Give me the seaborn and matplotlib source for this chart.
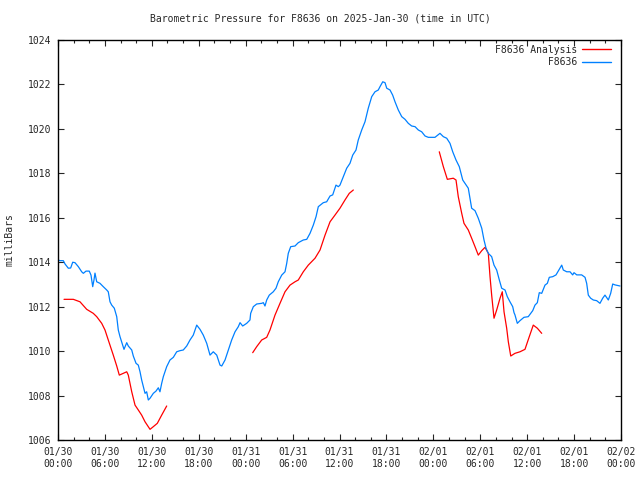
import pandas as pd
import numpy as np
import seaborn as sns
import matplotlib
matplotlib.use("Agg")
import matplotlib.pyplot as plt
import matplotlib.dates as mdates

# Zeitpunkte in Stunden ab 2025-01-30 00:00 UTC, Druck in mb
start = pd.Timestamp("2025-01-30 00:00")

station_hours = [0.0, 0.26, 0.68, 0.9, 1.32, 1.62, 1.88, 2.17, 2.6, 3.03, 3.24, 3.58, 4.0, 4.22, 4.44, 4.6,
                 4.73, 4.95, 5.37, 5.79, 6.23, 6.43, 6.65, 6.87, 7.2, 7.51, 7.71, 7.93, 8.27, 8.44, 8.79, 8.99,
                 9.43, 9.63, 9.98, 10.27, 10.49, 10.7, 10.91, 11.13, 11.34, 11.55, 11.77, 12.19, 12.53, 12.83,
                 13.04, 13.26, 13.47, 13.68, 13.9, 14.32, 14.75, 15.18, 15.6, 16.02, 16.46, 16.88, 17.3, 17.74,
                 18.16, 18.58, 19.02, 19.44, 19.86, 20.3, 20.72, 20.94, 21.36, 21.78, 22.21, 22.64, 23.06, 23.28,
                 23.62, 24.13, 24.55, 24.64, 24.98, 25.41, 26.05, 26.26, 26.47, 26.69, 27.02, 27.53, 27.88, 28.17,
                 28.61, 29.03, 29.25, 29.45, 29.76, 30.31, 30.73, 31.37, 31.81, 32.23, 32.65, 33.0, 33.29, 33.72,
                 33.93, 34.36, 34.79, 35.13, 35.55, 35.85, 36.06, 36.49, 36.92, 37.34, 37.69, 38.11, 38.4, 38.84,
                 39.26, 39.68, 40.12, 40.54, 40.96, 41.18, 41.53, 41.82, 42.04, 42.46, 42.8, 43.1, 43.52, 43.96,
                 44.38, 44.8, 45.23, 45.66, 46.08, 46.51, 46.94, 47.36, 48.21, 48.85, 49.28, 49.71, 50.13, 50.48,
                 50.9, 51.32, 51.76, 52.05, 52.47, 52.69, 52.9, 53.33, 53.75, 54.19, 54.48, 54.74, 55.03, 55.46,
                 55.76, 56.1, 56.44, 56.74, 57.17, 57.46, 57.8, 58.15, 58.32, 58.44, 58.74, 59.08, 59.59, 60.14,
                 60.71, 61.0, 61.3, 61.55, 61.86, 62.28, 62.58, 62.83, 63.27, 63.69, 64.11, 64.42, 64.62, 65.06,
                 65.48, 65.82, 65.99, 66.34, 66.97, 67.4, 67.61, 67.82, 68.12, 68.46, 68.89, 69.31, 69.66, 69.95,
                 70.38, 70.68, 70.94, 71.23, 71.87]
station_mb = [1014.1, 1014.07, 1014.07, 1013.92, 1013.73, 1013.74, 1014.0, 1013.98, 1013.8, 1013.57, 1013.5,
              1013.6, 1013.6, 1013.42, 1012.9, 1013.2, 1013.51, 1013.12, 1013.05, 1012.9, 1012.75, 1012.67,
              1012.22, 1012.07, 1011.93, 1011.55, 1010.95, 1010.65, 1010.27, 1010.08, 1010.38, 1010.23, 1010.05,
              1009.78, 1009.45, 1009.37, 1009.07, 1008.7, 1008.4, 1008.1, 1008.17, 1007.8, 1007.88, 1008.1,
              1008.2, 1008.35, 1008.17, 1008.55, 1008.85, 1009.07, 1009.3, 1009.6, 1009.72, 1009.97, 1010.02,
              1010.05, 1010.23, 1010.5, 1010.72, 1011.17, 1010.98, 1010.72, 1010.35, 1009.82, 1009.97, 1009.82,
              1009.37, 1009.33, 1009.6, 1010.05, 1010.5, 1010.87, 1011.1, 1011.28, 1011.13, 1011.25, 1011.4,
              1011.7, 1012.0, 1012.12, 1012.15, 1012.18, 1012.03, 1012.3, 1012.52, 1012.67, 1012.83, 1013.12,
              1013.42, 1013.57, 1013.95, 1014.4, 1014.7, 1014.73, 1014.88, 1015.0, 1015.03, 1015.3, 1015.67,
              1016.05, 1016.5, 1016.62, 1016.68, 1016.72, 1016.98, 1017.03, 1017.47, 1017.4, 1017.47, 1017.85,
              1018.23, 1018.45, 1018.82, 1019.05, 1019.5, 1019.95, 1020.32, 1020.93, 1021.45, 1021.67, 1021.75,
              1021.9, 1022.12, 1022.08, 1021.83, 1021.75, 1021.52, 1021.22, 1020.85, 1020.55, 1020.43, 1020.25,
              1020.13, 1020.1, 1019.95, 1019.87, 1019.68, 1019.62, 1019.62, 1019.8, 1019.65, 1019.58, 1019.35,
              1018.97, 1018.6, 1018.3, 1017.7, 1017.55, 1017.33, 1016.88, 1016.43, 1016.32, 1015.98, 1015.53,
              1015.0, 1014.63, 1014.4, 1014.25, 1013.87, 1013.65, 1013.2, 1012.83, 1012.75, 1012.45, 1012.22,
              1012.0, 1011.73, 1011.63, 1011.25, 1011.37, 1011.52, 1011.55, 1011.82, 1012.07, 1012.18, 1012.63,
              1012.6, 1012.97, 1013.05, 1013.32, 1013.35, 1013.43, 1013.68, 1013.87, 1013.65, 1013.57, 1013.57,
              1013.43, 1013.53, 1013.43, 1013.43, 1013.32, 1013.05, 1012.52, 1012.38, 1012.3, 1012.27, 1012.15,
              1012.38, 1012.52, 1012.3, 1012.6, 1013.02, 1012.98, 1012.93]

# Analyse: drei Abschnitte mit Lücken dazwischen
analysis_seg = [1] * 25 + [2] * 22 + [3] * 32
analysis_hours = [0.77, 1.96, 2.81, 3.67, 4.51, 4.95, 5.59, 6.01, 6.43, 7.07, 7.51, 7.84, 8.35, 8.79, 8.99,
                  9.43, 9.85, 10.27, 10.7, 11.13, 11.77, 12.19, 12.7, 13.26, 13.9,
                  24.9, 25.41, 26.05, 26.69, 27.11, 27.75, 28.39, 29.03, 29.67, 30.31, 30.73, 31.37, 32.01,
                  32.87, 33.51, 34.15, 34.79, 35.42, 36.06, 36.7, 37.25, 37.77,
                  48.76, 49.28, 49.79, 50.55, 50.9, 51.19, 51.63, 51.92, 52.47, 52.9, 53.33, 53.75, 54.19,
                  54.61, 55.03, 55.25, 55.46, 55.76, 56.1, 56.53, 56.82, 57.04, 57.38, 57.59, 57.9, 58.44,
                  59.08, 59.72, 60.27, 60.78, 61.3, 61.86]
analysis_mb = [1012.33, 1012.33, 1012.22, 1011.88, 1011.7, 1011.55, 1011.25, 1010.95, 1010.5, 1009.82,
               1009.33, 1008.92, 1009.0, 1009.07, 1008.92, 1008.17, 1007.57, 1007.35, 1007.12, 1006.82,
               1006.48, 1006.6, 1006.75, 1007.12, 1007.53,
               1009.93, 1010.2, 1010.5, 1010.62, 1010.95, 1011.62, 1012.15, 1012.67, 1012.97, 1013.12,
               1013.2, 1013.57, 1013.87, 1014.18, 1014.55, 1015.22, 1015.82, 1016.12, 1016.43, 1016.8,
               1017.1, 1017.25,
               1018.97, 1018.3, 1017.73, 1017.78, 1017.7, 1016.95, 1016.2, 1015.75, 1015.45, 1015.08,
               1014.7, 1014.32, 1014.52, 1014.67, 1014.4, 1013.35, 1012.52, 1011.48, 1011.85, 1012.38,
               1012.67, 1011.77, 1011.03, 1010.42, 1009.78, 1009.9, 1009.97, 1010.08, 1010.65, 1011.17,
               1011.03, 1010.8]

series_names = ["F8636 Analysis", "F8636"]
series_colors = ["#ff0000", "#0080ff"]

df_station = pd.DataFrame({"time": start + pd.to_timedelta(station_hours, unit="h"),
                           "mb": station_mb, "series": "F8636", "seg": 0})
df_analysis = pd.DataFrame({"time": start + pd.to_timedelta(analysis_hours, unit="h"),
                            "mb": analysis_mb, "series": "F8636 Analysis", "seg": analysis_seg})
df = pd.concat([df_analysis, df_station], ignore_index=True)

sns.set_style("ticks")
plt.rcParams["font.family"] = ["DejaVu Sans Mono", "DejaVu Sans"]
plt.rcParams["font.size"] = 7

fig = plt.figure(figsize=(6.4, 4.8), dpi=100)
ax = fig.add_axes([58 / 640, 40 / 480, 563 / 640, 400 / 480])

sns.lineplot(data=df, x="time", y="mb", hue="series", units="seg", estimator=None,
             hue_order=series_names, palette=series_colors, linewidth=0.9, ax=ax, legend=False)

ax.set_xlim(start, start + pd.Timedelta(hours=72))
ax.set_ylim(1006, 1024)
ax.set_yticks(np.arange(1006, 1025, 2))
ax.xaxis.set_major_locator(mdates.HourLocator(byhour=[0, 6, 12, 18]))
ax.xaxis.set_minor_locator(mdates.HourLocator(interval=2))
ax.xaxis.set_major_formatter(mdates.DateFormatter("%m/%d\n%H:%M"))

ax.tick_params(which="both", direction="in", top=True, right=True, labelsize=7, pad=5, width=0.8)
ax.tick_params(which="major", length=4)
ax.tick_params(which="minor", length=2)
for sp in ax.spines.values():
    sp.set_linewidth(1.0)
    sp.set_color("black")

ax.set_xlabel("")
ax.set_ylabel("milliBars", fontsize=7)
ax.yaxis.set_label_coords(-0.077, 0.5)
fig.suptitle("Barometric Pressure for F8636 on 2025-Jan-30 (time in UTC)", fontsize=7, y=0.972)

# Legende wie bei gnuplot: Text rechtsbündig, Linie rechts
width = max(len(s) for s in series_names)
handles = [plt.Line2D([], [], color=c, linewidth=1.0) for c in series_colors]
ax.legend(handles, [s.rjust(width) for s in series_names], loc="upper right", frameon=False,
          markerfirst=False, fontsize=7, handlelength=3.0, handletextpad=0.5,
          labelspacing=0.3, borderaxespad=0.4, bbox_to_anchor=(0.996, 1.008))

plt.savefig("out.png", dpi=100)
